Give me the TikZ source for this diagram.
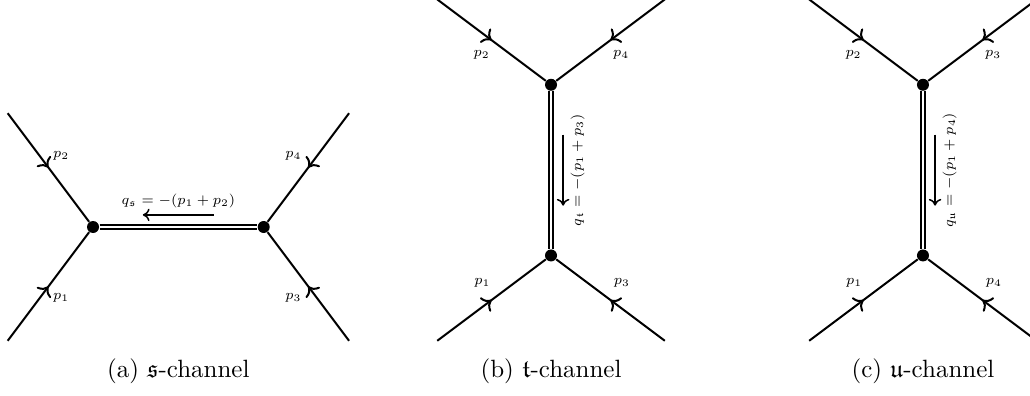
\documentclass[tikz,border=0pt]{standalone}
\usepackage{amssymb}
\usetikzlibrary{calc,arrows.meta,decorations.markings}

\begin{document}
\begin{tikzpicture}[
  leg/.style={draw=black,line width=0.8pt,postaction={decorate},
    decoration={markings,mark=at position 0.5 with {\arrow{>}}}},
  prop/.style={draw=black,line width=0.65pt,double,double distance=1pt},
  mom/.style={draw=black,line width=0.6pt,-{To[length=2.7pt,width=5pt]}},
  vtx/.style={circle,fill=black,inner sep=0pt,minimum size=4.8pt},
  lab/.style={font=\scriptsize,scale=0.8,inner sep=3pt}]
\useasboundingbox (-1.308,-2.376) rectangle (13.175,3.192);
% s-channel: horizontal exchange
\node[vtx] (sL) at (0,0) {};
\node[vtx] (sR) at (2.4,0) {};
\coordinate (s1) at (-1.2,-1.6);
\coordinate (s2) at (-1.2,1.6);
\coordinate (s3) at (3.6,-1.6);
\coordinate (s4) at (3.6,1.6);
\draw[leg] (s1) -- node[shift={(0.18,-0.16)},lab] {$p_1$} (sL);
\draw[leg] (s2) -- node[shift={(0.18,0.17)},lab] {$p_2$} (sL);
\draw[leg] (s3) -- node[shift={(-0.21,-0.16)},lab] {$p_3$} (sR);
\draw[leg] (s4) -- node[shift={(-0.21,0.17)},lab] {$p_4$} (sR);
\draw[prop] (sL) -- (sR);
\coordinate (sqa) at ($(sL)!0.5!(sR)+(0.5,0.17)$);
\coordinate (sqb) at ($(sL)!0.5!(sR)+(-0.5,0.17)$);
\draw[mom] (sqa) -- node[lab,above,inner sep=3.2pt] {$q_{\mathfrak{s}}=-(p_1+p_2)$} (sqb);
\node (capa) at (1.2,-2.03) {(a) $\mathfrak{s}$-channel};
% t- and u-channel: vertical exchange
\foreach \ch/\xs/\pb/\pc/\sub in {t/6.44/3/4/b,u/11.67/4/3/c}{
  \begin{scope}[shift={(\xs,-0.4)}]
  \node[vtx] (\ch D) at (0,0) {};
  \node[vtx] (\ch U) at (0,2.4) {};
  \coordinate (\ch1) at (-1.6,-1.2);
  \coordinate (\ch2) at (-1.6,3.6);
  \coordinate (\ch3) at (1.6,-1.2);
  \coordinate (\ch4) at (1.6,3.6);
  \draw[leg] (\ch1) -- node[shift={(-0.13,0.24)},lab] {$p_1$} (\ch D);
  \draw[leg] (\ch2) -- node[shift={(-0.14,-0.21)},lab] {$p_2$} (\ch U);
  \draw[leg] (\ch3) -- node[shift={(0.16,0.24)},lab] {$p_\pb$} (\ch D);
  \draw[leg] (\ch4) -- node[shift={(0.15,-0.21)},lab] {$p_\pc$} (\ch U);
  \draw[prop] (\ch D) -- (\ch U);
  \coordinate (\ch qa) at ($(\ch D)!0.5!(\ch U)+(0.17,0.5)$);
  \coordinate (\ch qb) at ($(\ch D)!0.5!(\ch U)+(0.17,-0.5)$);
  \draw[mom] (\ch qa) -- node[lab,rotate=90,below,inner sep=3.5pt]
    {$q_{\mathfrak{\ch}}=-(p_1+p_\pb)$} (\ch qb);
  \node (cap\sub) at (0,-1.63) {(\sub) $\mathfrak{\ch}$-channel};
  \end{scope}
}
\end{tikzpicture}
\end{document}
